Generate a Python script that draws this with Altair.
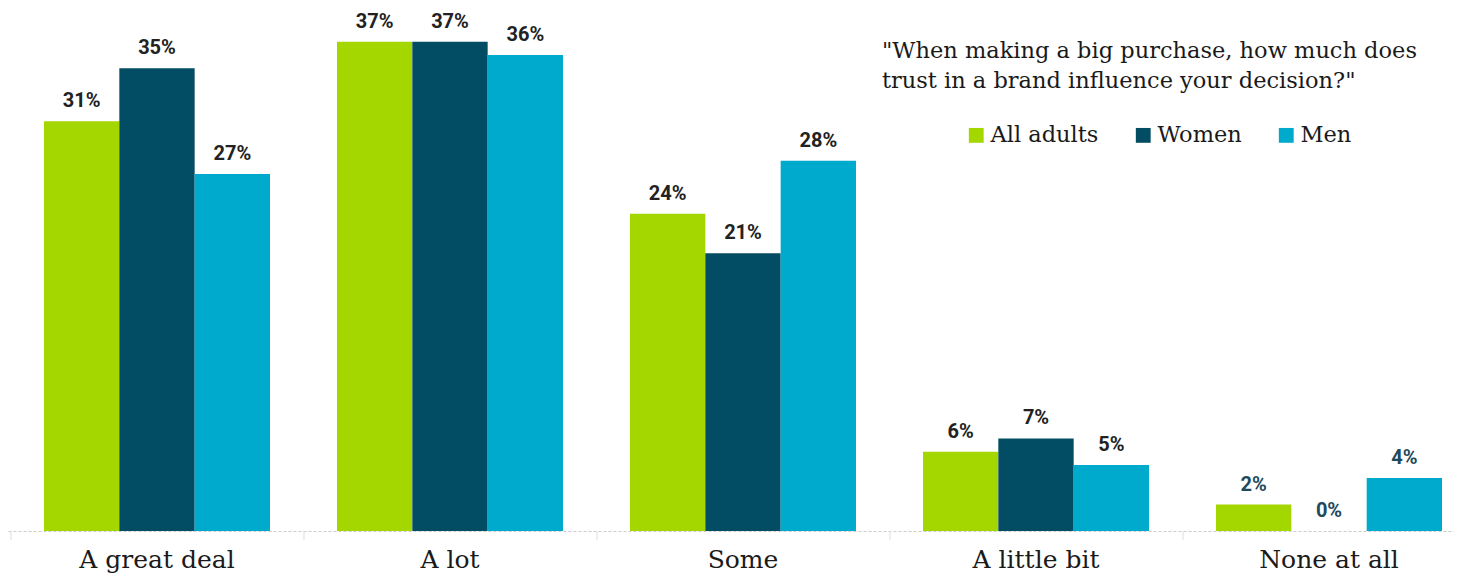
import altair as alt
import pandas as pd

categories = ["A great deal", "A lot", "Some", "A little bit", "None at all"]
groups = ["All adults", "Women", "Men"]
all_adults = [31, 37, 24, 6, 2]
women = [35, 37, 21, 7, 0]
men = [27, 36, 28, 5, 4]
colors = ["#a4d600", "#024c64", "#00aacd"]
title_lines = ["\"When making a big purchase, how much does",
               "trust in a brand influence your decision?\""]

rows = []
for gi, (g, vals) in enumerate(zip(groups, [all_adults, women, men])):
    for ci, c in enumerate(categories):
        rows.append({
            "category": c,
            "group": g,
            "value": vals[ci],
            "label": f"{vals[ci]}%",
            "lc": "#1e4a5c" if c == "None at all" else "#222222",
        })
df = pd.DataFrame(rows)
cat_df = pd.DataFrame({"category": categories})

W, H = 1446, 523
x_scale = alt.Scale(domain=categories, paddingInner=0.2287, paddingOuter=0.0819, align=0.75)
xo_scale = alt.Scale(domain=groups, paddingInner=0, paddingOuter=0)
y_scale = alt.Scale(domain=[0, 39.56], nice=False, zero=True)

base = alt.Chart(df).encode(
    x=alt.X("category:N", scale=x_scale, sort=categories,
            axis=alt.Axis(title=None, labelAngle=0, labelFont="DejaVu Serif",
                          labelFontSize=25, labelColor="#1a1a1a", labelPadding=16,
                          domainColor="#cccccc", domainDash=[3, 2], domainWidth=1,
                          ticks=False, grid=False)),
    xOffset=alt.XOffset("group:N", scale=xo_scale, sort=groups),
    y=alt.Y("value:Q", scale=y_scale, axis=None),
)

bars = base.mark_bar().encode(
    color=alt.Color("group:N", sort=groups,
                    scale=alt.Scale(domain=groups, range=colors),
                    legend=alt.Legend(title=None, orient="none", legendX=957, legendY=116,
                                      direction="horizontal", symbolType="square",
                                      symbolSize=220, symbolStrokeWidth=0,
                                      labelFont="DejaVu Serif", labelFontSize=22.5,
                                      labelColor="#1a1a1a", labelOffset=3,
                                      columnPadding=33, symbolOpacity=1)),
)

labels = base.mark_text(baseline="bottom", dy=-10, font="Roboto", fontWeight="bold",
                        fontSize=20).encode(
    text="label:N",
    color=alt.Color("lc:N", scale=None),
)

ticks = alt.Chart(cat_df).mark_rule(color="#dddddd", strokeWidth=1, xOffset=-33).encode(
    x=alt.X("category:N", scale=x_scale, sort=categories, bandPosition=0),
    y=alt.value(H),
    y2=alt.value(H + 9),
)

title_df = pd.DataFrame({"t": [title_lines]})
title = alt.Chart(title_df).mark_text(align="left", baseline="alphabetic", font="DejaVu Serif",
                                       fontSize=22.5, color="#1a1a1a", lineHeight=30).encode(
    text="t",
    x=alt.value(874),
    y=alt.value(50),
)

chart = alt.layer(bars, labels, ticks, title).properties(
    width=W, height=H,
    padding={"left": 0, "top": 0, "right": 0, "bottom": 46},
    autosize=alt.AutoSizeParams(type="none"),
).configure_view(stroke=None).configure_legend(symbolStrokeWidth=0)

chart.save("out.html", embed_options={"renderer": "svg", "actions": False})
